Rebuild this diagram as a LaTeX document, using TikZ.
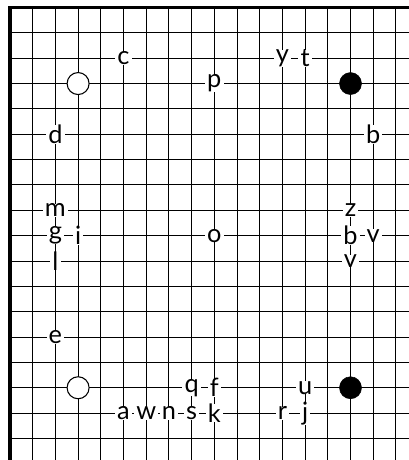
\documentclass[tikz,border=0pt]{standalone}
\usepackage{fontspec}
\setmainfont{Lato}
\usepackage{tikz}
\tikzset{
goline/.style={line width=0.75pt, draw=black},
goedge/.style={line width=2.4pt, draw=black, line join=miter},
gowhite/.style={circle, draw=black, fill=white, line width=0.8pt, minimum size=16.5pt, inner sep=0pt},
goblack/.style={circle, draw=black, fill=black, minimum size=16.5pt, inner sep=0pt},
golabel/.style={fill=white, inner xsep=1.6pt, inner ysep=0pt, font=\fontsize{19}{19}\selectfont}
}

\begin{document}
\begin{tikzpicture}[x=17.025pt, y=-19.0125pt]
\useasboundingbox (-0.4405,-0.296) rectangle (17.577,17.85);

% board lines
\foreach \k in {1,...,17} {
  \draw[goline] (\k,0) -- (\k,17.85);
  \draw[goline] (0,\k) -- (17.577,\k);
}
\draw[goedge] (0,17.85) -- (0,0) -- (17.577,0);

% stones
\node[gowhite] (w1) at (3,3) {};
\node[goblack] (b1) at (15,3) {};
\node[gowhite] (w2) at (3,15) {};
\node[goblack] (b2) at (15,15) {};

% letters
\foreach \c/\r/\t in {5/2/c, 12/2/y, 13/2/t, 9/3/p, 2/5/d, 16/5/b,
  2/8/m, 15/8/z, 2/9/g, 3/9/i, 9/9/o, 15/9/b, 16/9/v, 2/10/l, 15/10/v,
  2/13/e, 8/15/q, 9/15/f, 13/15/u,
  5/16/a, 6/16/w, 7/16/n, 8/16/s, 9/16/k, 12/16/r, 13/16/j}
  \node[golabel] (lab-\c-\r) at (\c,\r) {\t};
\end{tikzpicture}
\end{document}
